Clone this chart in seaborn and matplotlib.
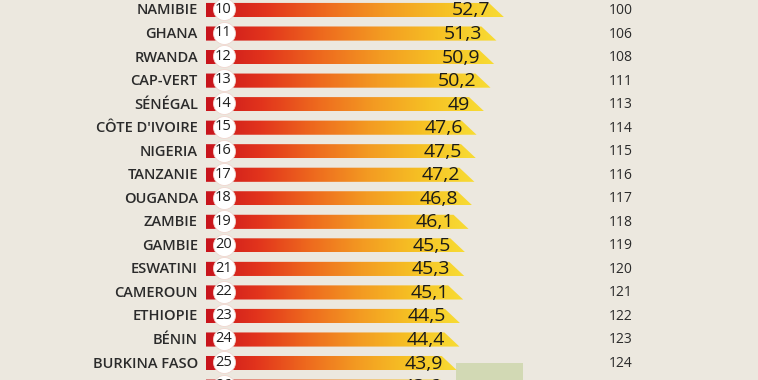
import numpy as np
import pandas as pd
import matplotlib
matplotlib.use("Agg")
import matplotlib.pyplot as plt
import seaborn as sns
from matplotlib.colors import LinearSegmentedColormap
from matplotlib.patches import Polygon, Rectangle

# Data
ranks = list(range(10, 27))
countries = ["NAMIBIE", "GHANA", "RWANDA", "CAP-VERT", "SÉNÉGAL", "CÔTE D'IVOIRE",
             "NIGERIA", "TANZANIE", "OUGANDA", "ZAMBIE", "GAMBIE", "ESWATINI",
             "CAMEROUN", "ETHIOPIE", "BÉNIN", "BURKINA FASO", ""]
scores = [52.7, 51.3, 50.9, 50.2, 49, 47.6, 47.5, 47.2, 46.8, 46.1, 45.5, 45.3,
          45.1, 44.5, 44.4, 43.9, 43.6]
world_ranks = [100, 106, 108, 111, 113, 114, 115, 116, 117, 118, 119, 120, 121,
               122, 123, 124, 125]

BG = "#ece8df"
TEXT = "#2b2b2b"

df = pd.DataFrame({"rank": [str(r) for r in ranks], "score": scores})

sns.set_style("white")
plt.rcParams["font.family"] = ["Open Sans", "DejaVu Sans"]

fig = plt.figure(figsize=(7.58, 3.80), dpi=100, facecolor=BG)
ax = fig.add_axes([0, 0, 1, 1])
ax.set_facecolor(BG)

sns.barplot(data=df, x="score", y="rank", orient="h", width=0.6,
            color="#e85a1e", ax=ax)

grad = LinearSegmentedColormap.from_list(
    "heat", ["#c8141c", "#e2341c", "#ee6a1e", "#f39a22", "#f6c124", "#f8dc34"])
g = np.linspace(0, 1, 256).reshape(1, -1)

x_start = -2.9   # left edge of the red tab, before the score axis origin
tip = 2.8        # length of the slanted tip

for p in list(ax.patches):
    y0 = p.get_y()
    h = p.get_height()
    v = p.get_x() + p.get_width()
    p.remove()
    top, bot = y0, y0 + h
    poly = Polygon([(x_start, top), (v - tip, top), (v, bot), (x_start, bot)],
                   closed=True, facecolor="none", edgecolor="none")
    ax.add_patch(poly)
    im = ax.imshow(g, cmap=grad, aspect="auto", extent=(x_start, v, bot, top),
                   zorder=2, interpolation="bilinear")
    im.set_clip_path(poly)

ypos = np.arange(len(ranks))

# rank badges
ax.scatter(np.full(len(ranks), 0.4), ypos - 0.03, s=250, color="white",
           edgecolor="#f1d6cf", linewidth=0.6, zorder=3)
for y, r in zip(ypos, ranks):
    ax.text(0.4, y - 0.03, str(r), ha="center", va="center", fontsize=10.5,
            color="#1f1f1f", zorder=4)

for y, name, v, wr in zip(ypos, countries, scores, world_ranks):
    ax.text(-4.4, y + 0.02, name, ha="right", va="center", fontsize=10.5,
            fontweight="semibold", color=TEXT)
    ax.text(v - 2.6, y + 0.02, f"{v:g}".replace(".", ","), ha="right",
            va="center", fontsize=14, fontweight="medium", color="#1a1a1a",
            zorder=5)
    ax.text(74.5, y + 0.02, str(wr), ha="center", va="center", fontsize=10,
            color=TEXT)

# partial box visible at the bottom edge
ax.add_patch(Rectangle((0.6016, 0), 0.0884, 0.0455, transform=ax.transAxes,
                       facecolor="#d2d9b4", edgecolor="none", zorder=1))

ax.set_xlim(-41.3, 100.1)
ax.set_ylim(15.72, -0.425)
ax.axis("off")

fig.savefig("out.png", dpi=100, facecolor=BG)
